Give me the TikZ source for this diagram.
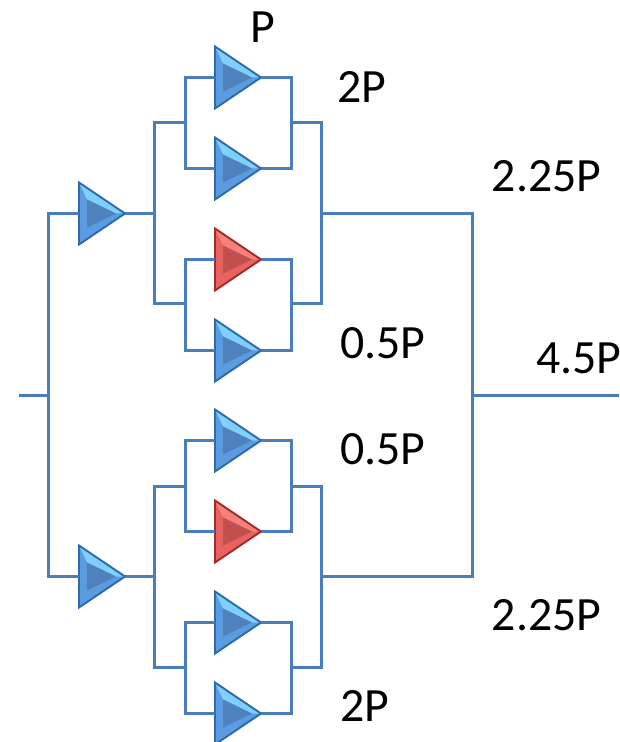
\documentclass[tikz,border=0pt]{standalone}
\usepackage{fontspec}
\setmainfont{Carlito}
\usetikzlibrary{shapes.geometric}
\definecolor{wire}{HTML}{4A7EBB}
\definecolor{blueedge}{HTML}{2E6BA8}
\definecolor{bluebase}{HTML}{5B9BDF}
\definecolor{bluelight}{HTML}{7FD0FF}
\definecolor{bluecore}{HTML}{4F81BD}
\definecolor{rededge}{HTML}{A52A2A}
\definecolor{redbase}{HTML}{E8635F}
\definecolor{redlight}{HTML}{F2837C}
\definecolor{redcore}{HTML}{C0504D}
\tikzset{
    amp/.style n args={4}{
        isosceles triangle, isosceles triangle stretches, shape border rotate=0,
        minimum width=1.24cm, minimum height=0.92cm, inner sep=0pt, outer sep=0pt,
        anchor=west, draw=#1, line width=1.1pt, fill=#2,
        path picture={
            \fill[#3] (path picture bounding box.west) ++(0,-31) -- ++(46,31) -- ++(-9,0) -- ++(-29,-14) -- cycle;
            \fill[#4] (path picture bounding box.west) ++(8,-14) -- ++(29,14) -- ++(-29,14) -- cycle;
        }
    },
    ampblue/.style={amp={blueedge}{bluebase}{bluelight}{bluecore}},
    ampred/.style={amp={rededge}{redbase}{redlight}{redcore}},
    wireline/.style={draw=wire, line width=1.7pt},
    power/.style={font=\fontsize{27.2pt}{30pt}\selectfont, inner sep=0pt}
}
\begin{document}
\begin{tikzpicture}[x=0.02cm,y=-0.02cm]
    \useasboundingbox (0,0) rectangle (619,742);
    % junctions
    \coordinate (in) at (19,395.5);
    \coordinate (out) at (619,395.5);
    \coordinate (split) at (48.5,395.5);
    \coordinate (merge) at (472,395.5);
    \coordinate (s_1) at (154.5,213.5);
    \coordinate (s_2) at (154.5,576.5);
    \coordinate (m_1) at (321,213.5);
    \coordinate (m_2) at (321,576.5);
    \foreach \n/\ypos in {1/122.5,2/303.5,3/486.5,4/667.5} {
        \coordinate (j_\n) at (185.5,\ypos);
        \coordinate (k_\n) at (291,\ypos);
    }
    % amplifiers
    \node[ampblue] (d_1) at (79,213.5) {};
    \node[ampblue] (d_2) at (79,576.5) {};
    \foreach \name/\ypos/\kind in {q_1/77.5/ampblue,q_2/168.5/ampblue,q_3/259.5/ampred,q_4/350.5/ampblue,
        q_5/440.5/ampblue,q_6/531.5/ampred,q_7/622.5/ampblue,q_8/713.5/ampblue}
        \node[\kind] (\name) at (215,\ypos) {};
    % wires
    \path[wireline]
        (in) -- (split)
        (merge) -- (out)
        (d_1.west) -| (split) |- (d_2.west)
        (d_1.east) -- (s_1)
        (d_2.east) -- (s_2)
        (j_1) -| (s_1) |- (j_2)
        (j_3) -| (s_2) |- (j_4)
        (k_1) -| (m_1) |- (k_2)
        (k_3) -| (m_2) |- (k_4)
        (m_1) -| (merge) |- (m_2);
    \foreach \n/\a/\b in {1/q_1/q_2,2/q_3/q_4,3/q_5/q_6,4/q_7/q_8} {
        \path[wireline]
            (\a.west) -| (j_\n) |- (\b.west)
            (\a.east) -| (k_\n) |- (\b.east);
    }
    % labels
    \node[power] (p_1) at (263,27) {P};
    \node[power] (p_2) at (362,87) {2P};
    \node[power] (p_3) at (546.5,176) {2.25P};
    \node[power] (p_4) at (383,343) {0.5P};
    \node[power] (p_5) at (579,358) {4.5P};
    \node[power] (p_6) at (383,449) {0.5P};
    \node[power] (p_7) at (546.5,615) {2.25P};
    \node[power] (p_8) at (365,706) {2P};
\end{tikzpicture}
\end{document}
